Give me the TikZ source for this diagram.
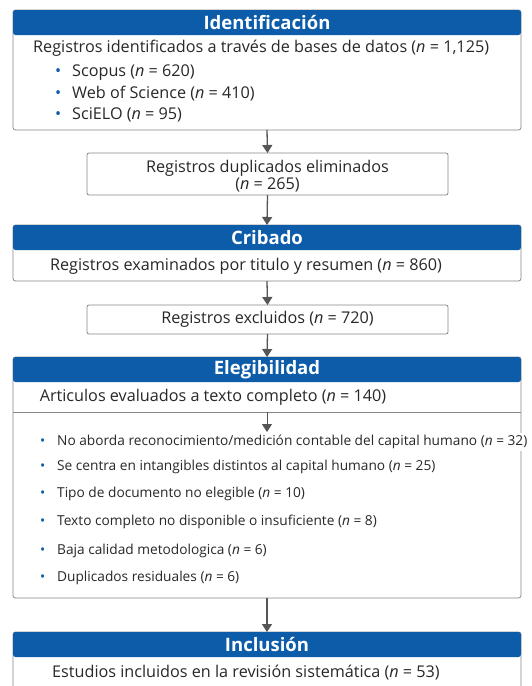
\documentclass[tikz,border=0pt]{standalone}
\usepackage{fontspec}
\setmainfont{Open Sans}
\usetikzlibrary{arrows.meta}

\definecolor{hdblue}{RGB}{12,92,170}
\definecolor{frame}{RGB}{135,135,135}
\definecolor{arrowgray}{RGB}{85,85,85}
\definecolor{ink}{RGB}{40,40,40}

\newcommand{\dotmark}{\makebox[17pt][l]{\textcolor{hdblue}{\textbullet}}}

\tikzset{
	panel/.style={draw=frame, line width=0.8pt, rounded corners=2.5pt, fill=white, minimum width=508pt, anchor=north west, inner sep=0pt, outer sep=0pt},
	header/.style={fill=hdblue, rounded corners=2.5pt, text=white, font=\bfseries\fontsize{18.5}{20}\selectfont, minimum width=508pt, minimum height=25pt, anchor=north west, inner sep=0pt, outer sep=0pt},
	subbox/.style={draw=frame, line width=0.8pt, rounded corners=2pt, fill=white, minimum width=361pt, align=center, text=ink, font=\fontsize{16.2}{17}\selectfont, inner sep=0pt, outer sep=0pt},
	txt/.style={font=\fontsize{16.2}{18}\selectfont, text=ink, inner sep=0pt, anchor=west},
	smalltxt/.style={font=\fontsize{13.7}{16}\selectfont, text=ink, inner sep=0pt, anchor=west},
	flow/.style={arrowgray, line width=1.3pt, -{Triangle[width=10pt,length=8pt]}},
}

\begin{document}
\begin{tikzpicture}[x=1pt,y=-1pt]
	\useasboundingbox (0,0) rectangle (531,686);
	\clip (0,0) rectangle (531,686);

	% Identificacion
	\node[panel, minimum height=120pt] (idbox) at (13,10) {};
	\node[header] (idhead) at (13,10) {Identificación};
	\node[txt] (idtext) at (33,48) {Registros identificados a través de bases de datos (\textit{n} = 1,125)};
	\foreach \y/\nm/\t in {73/scopus/{Scopus (\textit{n} = 620)}, 94/wos/{Web of Science (\textit{n} = 410)}, 115/scielo/{SciELO (\textit{n} = 95)}}{
		\node[txt] (\nm) at (55,\y) {\dotmark\t};
	}

	\node[subbox, minimum height=42pt] (dupbox) at (267.5,174) {};
	\node[subbox, draw=none, fill=none] (duptext) at (267.5,176) {Registros duplicados eliminados\\(\textit{n} = 265)};

	% Cribado
	\node[panel, minimum height=56pt] (cribox) at (13,225) {};
	\node[header] (crihead) at (13,225) {Cribado};
	\node[txt, anchor=center] (critext) at (246,266) {Registros examinados por titulo y resumen (\textit{n} = 860)};

	\node[subbox, minimum height=29pt] (excbox) at (267.5,319.5) {Registros excluidos (\textit{n} = 720)};

	% Elegibilidad
	\node[panel, minimum height=241pt] (elbox) at (13,357) {};
	\node[header] (elhead) at (13,357) {Elegibilidad};
	\node[minimum width=508pt, minimum height=30pt, anchor=north west, inner sep=0pt, outer sep=0pt] (elrow) at (13,382) {};
	\node[txt, anchor=center] (eltext) at (213,397) {Articulos evaluados a texto completo (\textit{n} = 140)};
	\draw[frame, line width=0.8pt] (elrow.south west) -- (elrow.south east);
	\coordinate (elarrow) at (267,432);
	\draw[flow, line width=0.9pt] (elrow.south) -- (elarrow);
	\foreach \y/\nm/\t in {
		467/ex2/{Se centra en intangibles distintos al capital humano (\textit{n} = 25)},
		494/ex3/{Tipo de documento no elegible (\textit{n} = 10)},
		522/ex4/{Texto completo no disponible o insuficiente (\textit{n} = 8)},
		551/ex5/{Baja calidad metodologica (\textit{n} = 6)},
		578/ex6/{Duplicados residuales (\textit{n} = 6)}}{
		\node[smalltxt] (\nm) at (40,\y) {\dotmark\t};
	}
	\node[smalltxt, fill=white, inner ysep=2pt] (ex1) at (40,442) {\dotmark No aborda reconocimiento/medición contable del capital humano (\textit{n} = 32)};

	% Inclusion
	\node[panel, minimum height=70pt] (inbox) at (13,632) {};
	\node[header] (inhead) at (13,632) {Inclusión};
	\node[txt, anchor=center] (intext) at (246,673) {Estudios incluidos en la revisión sistemática (\textit{n} = 53)};

	\draw[flow] (idbox.south) -- (dupbox.north);
	\draw[flow] (dupbox.south) -- (crihead.north);
	\draw[flow] (cribox.south) -- (excbox.north);
	\draw[flow] (excbox.south) -- (elhead.north);
	\draw[flow] (elbox.south) -- (inhead.north);
\end{tikzpicture}
\end{document}
